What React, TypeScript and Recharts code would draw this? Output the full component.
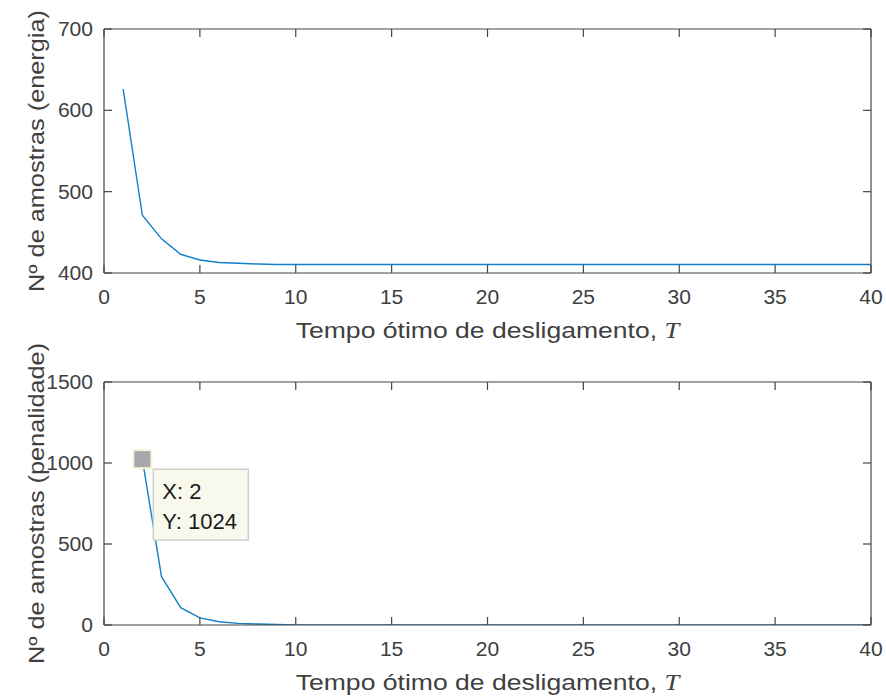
import { Line, LineChart, ReferenceDot, XAxis, YAxis } from "recharts";

// T values (x axis)
const tTop = [1, 2, 3, 4, 5, 6, 7, 8, 9, 10, 11, 12, 13, 14, 15, 16, 17, 18, 19, 20, 21, 22, 23, 24, 25, 26, 27, 28, 29, 30, 31, 32, 33, 34, 35, 36, 37, 38, 39, 40];
const energia = [626, 471, 442, 423, 416, 413, 412, 411, 410.5, 410.5, 410.5, 410.5, 410.5, 410.5, 410.5, 410.5, 410.5, 410.5, 410.5, 410.5, 410.5, 410.5, 410.5, 410.5, 410.5, 410.5, 410.5, 410.5, 410.5, 410.5, 410.5, 410.5, 410.5, 410.5, 410.5, 410.5, 410.5, 410.5, 410.5, 410.5];

const tBottom = [2, 3, 4, 5, 6, 7, 8, 9, 10, 11, 12, 13, 14, 15, 16, 17, 18, 19, 20, 21, 22, 23, 24, 25, 26, 27, 28, 29, 30, 31, 32, 33, 34, 35, 36, 37, 38, 39, 40];
const penalidade = [1024, 298, 107, 44, 20, 10, 6, 3, 1, 0.5, 0, 0, 0, 0, 0, 0, 0, 0, 0, 0, 0, 0, 0, 0, 0, 0, 0, 0, 0, 0, 0, 0, 0, 0, 0, 0, 0, 0, 0];

const xTicks = [0, 5, 10, 15, 20, 25, 30, 35, 40];
const yTicksTop = [400, 500, 600, 700];
const yTicksBottom = [0, 500, 1000, 1500];

const tipX = 2;

const topData = tTop.map((t, i) => ({ t, v: energia[i] }));
const bottomData = tBottom.map((t, i) => ({ t, v: penalidade[i] }));
const tipY = bottomData.find((d) => d.t === tipX)?.v ?? 0;

const FONT = "'Liberation Sans', Arial, Helvetica, sans-serif";
const TXT = "#404040";
const AX = "#454545";
const BLUE = "#1280c8";
const TICK_SX = 1.08; // matlab's helvetica renders wider than liberation
const LABEL_SX = 1.15;

const XTick = ({ x, y, payload }: any) => (
  <text
    transform={`translate(${x},${y + 31}) scale(${TICK_SX},1)`}
    textAnchor="middle"
    fontSize={19.5}
    fontFamily={FONT}
    fill={TXT}
  >
    {payload.value}
  </text>
);

const YTick = ({ x, y, payload }: any) => (
  <text
    transform={`translate(${x - 11},${y + 7}) scale(${TICK_SX},1)`}
    textAnchor="end"
    fontSize={19.5}
    fontFamily={FONT}
    fill={TXT}
  >
    {payload.value}
  </text>
);

// mirrored box axes: tick marks only
const NoLabel = () => <g />;

const XLabel = (props: any) => {
  const { x, y, width } = props.viewBox;
  return (
    <text
      transform={`translate(${x + width / 2},${y + 65}) scale(1.18,1)`}
      textAnchor="middle"
      fontSize={22.5}
      fontFamily={FONT}
      fill={TXT}
    >
      Tempo ótimo de desligamento,{" "}
      <tspan fontFamily="'Liberation Serif', 'Times New Roman', serif" fontStyle="italic">
        T
      </tspan>
    </text>
  );
};

const yLabel = (text: string) => (props: any) => {
  const { y, height } = props.viewBox;
  return (
    <text
      transform={`translate(44,${y + height / 2}) rotate(-90) scale(${LABEL_SX},1)`}
      textAnchor="middle"
      fontSize={22}
      fontFamily={FONT}
      fill={TXT}
    >
      {text}
    </text>
  );
};

const DataTip = ({ cx, cy }: any) => (
  <g>
    <rect x={cx - 10} y={cy - 10} width={20} height={20} fill="#f6f3dc" />
    <rect x={cx - 8} y={cy - 8} width={16} height={16} fill="#a6a6ab" />
    <rect x={cx + 11} y={cy + 10} width={95} height={71} fill="#f8f8ec" stroke="#cfcfcf" strokeWidth={1.5} />
    <text x={cx + 20} y={cy + 40} fontSize={22} fontFamily={FONT} fill="#1a1a1a">
      X: {tipX}
    </text>
    <text x={cx + 20} y={cy + 70} fontSize={22} fontFamily={FONT} fill="#1a1a1a">
      Y: {tipY}
    </text>
  </g>
);

function Panel({
  data,
  height,
  margin,
  domain,
  ticks,
  ylabel,
  children,
}: {
  data: { t: number; v: number }[];
  height: number;
  margin: { top: number; right: number; bottom: number; left: number };
  domain: [number, number];
  ticks: number[];
  ylabel: string;
  children?: React.ReactNode;
}) {
  return (
    <LineChart width={886} height={height} data={data} margin={margin}>
      <XAxis
        dataKey="t"
        type="number"
        domain={[0, 40]}
        ticks={xTicks}
        height={30}
        tickSize={-8}
        tickMargin={8}
        tick={<XTick />}
        axisLine={{ stroke: AX, strokeWidth: 1.2 }}
        tickLine={{ stroke: AX, strokeWidth: 1.2 }}
        label={<XLabel />}
      />
      <XAxis
        xAxisId="top"
        orientation="top"
        dataKey="t"
        type="number"
        domain={[0, 40]}
        ticks={xTicks}
        height={1}
        tickSize={-8}
        tick={<NoLabel />}
        axisLine={{ stroke: AX, strokeWidth: 1.2 }}
        tickLine={{ stroke: AX, strokeWidth: 1.2 }}
      />
      <YAxis
        type="number"
        domain={domain}
        ticks={ticks}
        width={80}
        tickSize={-8}
        tickMargin={8}
        tick={<YTick />}
        axisLine={{ stroke: AX, strokeWidth: 1.2 }}
        tickLine={{ stroke: AX, strokeWidth: 1.2 }}
        label={yLabel(ylabel)}
        allowDataOverflow
      />
      <YAxis
        yAxisId="right"
        orientation="right"
        type="number"
        domain={domain}
        ticks={ticks}
        width={1}
        tickSize={-8}
        tick={<NoLabel />}
        axisLine={{ stroke: AX, strokeWidth: 1.2 }}
        tickLine={{ stroke: AX, strokeWidth: 1.2 }}
        allowDataOverflow
      />
      <Line
        xAxisId="top"
        yAxisId="right"
        dataKey="v"
        stroke="none"
        dot={false}
        activeDot={false}
        isAnimationActive={false}
      />
      <Line
        dataKey="v"
        stroke={BLUE}
        strokeWidth={1.4}
        dot={false}
        activeDot={false}
        isAnimationActive={false}
      />
      {children}
    </LineChart>
  );
}

export default function App() {
  return (
    <div style={{ position: "absolute", left: 0, top: 0, width: 886, height: 699, background: "#fff" }}>
      <style>{".recharts-surface { overflow: visible; }"}</style>
      <Panel
        data={topData}
        height={350}
        margin={{ top: 28, right: 14, bottom: 47, left: 24 }}
        domain={[400, 700]}
        ticks={yTicksTop}
        ylabel="Nº de amostras (energia)"
      />
      <Panel
        data={bottomData}
        height={349}
        margin={{ top: 31, right: 14, bottom: 44, left: 24 }}
        domain={[0, 1500]}
        ticks={yTicksBottom}
        ylabel="Nº de amostras (penalidade)"
      >
        <ReferenceDot x={tipX} y={tipY} r={8} shape={<DataTip />} ifOverflow="visible" />
      </Panel>
    </div>
  );
}
